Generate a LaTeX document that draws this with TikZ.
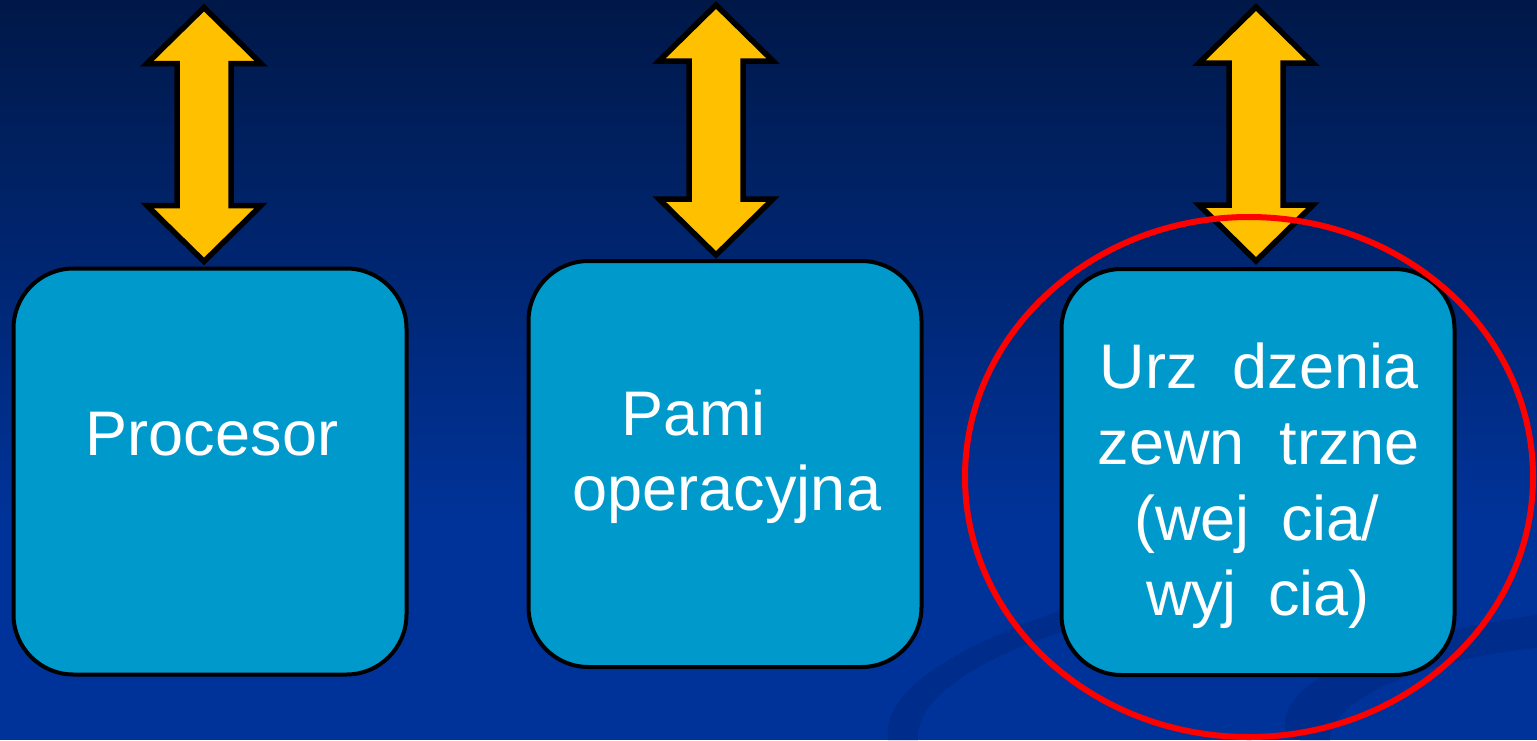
\documentclass[tikz,border=0pt]{standalone}
\usepackage{fontspec}
\setmainfont{Liberation Sans}

\definecolor{bgtop}{RGB}{0,24,72}
\definecolor{bgbottom}{RGB}{0,51,153}
\definecolor{swooshblue}{RGB}{0,45,140}
\definecolor{boxblue}{RGB}{0,153,204}
\definecolor{busyellow}{RGB}{255,192,0}

\tikzset{
  unit/.style={draw=black, line width=4pt, fill=boxblue, rounded corners=60pt,
    minimum width=393pt, minimum height=406pt, inner sep=0pt},
  caption/.style={text=white, anchor=base, inner sep=0pt,
    font=\fontsize{63}{75}\selectfont},
  bus/.style={draw=black, fill=busyellow, line width=5.5pt, line join=miter},
  highlight/.style={draw=red, line width=6pt},
  swoosh/.style={fill=swooshblue},
  % double-headed bus arrow, tip at the origin, #1 = total length upwards
  pics/busarrow/.style={code={
    \path[bus] (0,0) -- (-57,-56) -- (-27,-56) -- (-27,-#1+56) -- (-57,-#1+56)
      -- (0,-#1) -- (57,-#1+56) -- (27,-#1+56) -- (27,-56) -- (57,-56) -- cycle;
  }}
}

\begin{document}
\begin{tikzpicture}[x=1pt,y=-1pt]
  \useasboundingbox (0,0) rectangle (1537,740);

  % background
  \fill[bgbottom] (0,0) rectangle (1537,740);
  \shade[top color=bgtop, bottom color=bgbottom] (0,0) rectangle (1537,520);

  % faint decorative swooshes
  \fill[swoosh] (888,740) .. controls (880,690) and (960,645) .. (1062,610)
    -- (1062,632) .. controls (975,660) and (915,700) .. (918,740) -- cycle;
  \fill[swoosh] (1537,615) .. controls (1420,630) and (1290,670) .. (1285,720)
    .. controls (1284,735) and (1290,740) .. (1300,740) -- (1330,740)
    .. controls (1330,700) and (1420,660) .. (1537,648) -- cycle;

  % units
  \node[unit] (cpu) at (210,471.5) {};
  \node[unit] (mem) at (725,464) {};
  \node[unit] (io)  at (1258,472) {};

  % bus arrows
  \pic at ([xshift=-6pt,yshift=5pt]cpu.north) {busarrow=254};
  \pic at ([xshift=-9pt,yshift=4pt]mem.north) {busarrow=250};
  \pic at ([xshift=-2pt,yshift=6pt]io.north) {busarrow=254};

  % labels
  \node[caption] (cpuL) at (212,455) {Procesor};
  \node[caption] (memL1) at (727,435) {Pami\kern1.056em\null};
  \node[caption] (memL2) at (727,510) {operacyjna};
  \node[caption] (ioL1) at (1259,388) {Urz\hspace{0.556em}dzenia};
  \node[caption] (ioL2) at (1259,464) {zewn\hspace{0.556em}trzne};
  \node[caption] (ioL3) at (1257,540) {(wej\hspace{0.5em}cia/};
  \node[caption] (ioL4) at (1258,615) {wyj\hspace{0.5em}cia)};

  % highlight ring
  \draw[highlight] (1249,477) ellipse [x radius=284, y radius=260];
\end{tikzpicture}
\end{document}
